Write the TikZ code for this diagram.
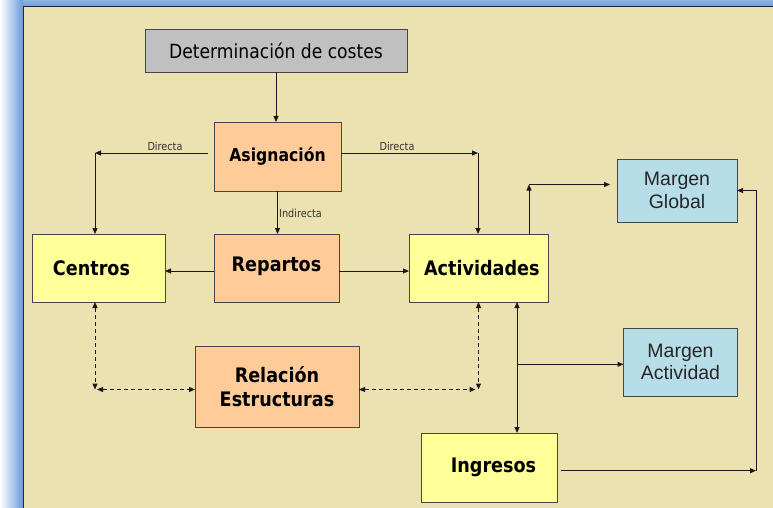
\documentclass[tikz,border=0pt]{standalone}
\usepackage{fontspec}
\setmainfont[FakeStretch=0.88]{DejaVu Sans}
\newfontfamily\arialf{Liberation Sans}
\usetikzlibrary{arrows.meta}
\definecolor{beige}{RGB}{236,225,176}
\definecolor{frameblue}{RGB}{104,154,216}
\definecolor{grayfill}{RGB}{192,192,192}
\definecolor{peach}{RGB}{255,204,153}
\definecolor{lyellow}{RGB}{255,255,153}
\definecolor{lblue}{RGB}{183,222,232}
\definecolor{boxline}{RGB}{70,70,70}
\definecolor{conn}{RGB}{25,25,25}
\tikzset{
  box/.style={draw=boxline, line width=0.9pt, inner sep=0pt, outer sep=0pt, align=center},
  btxt/.style={font=\fontsize{20}{24}\selectfont\bfseries},
  atxt/.style={font=\arialf\fontsize{19.5}{22.7}\selectfont, text=black!85},
  small/.style={font=\fontsize{11}{13}\selectfont, text=black!80, inner sep=0pt},
  arr/.style={draw=conn, line width=1pt, -{Triangle[length=6pt,width=5pt]}},
  darr/.style={draw=conn, line width=1pt, {Triangle[length=6pt,width=5pt]}-{Triangle[length=6pt,width=5pt]}},
  dsh/.style={dash pattern=on 4pt off 3pt}
}
\begin{document}
\begin{tikzpicture}[x=1pt,y=-1pt]
\useasboundingbox (0,0) rectangle (773,508);
% frame
\fill[white] (0,0) rectangle (773,508);
\shade[left color=white, right color=frameblue] (0,0) rectangle (23,508);
\shade[top color=frameblue!75, bottom color=frameblue] (23,0) rectangle (773,7);
\fill[beige] (23,7) rectangle (773,508);
\draw[line width=1pt, black!85] (23,508) -- (23,7) -- (773,7);

% nodes
\node[box, fill=grayfill, minimum width=262pt, minimum height=43pt,
      font=\fontsize{19.5}{23}\selectfont] (det) at (276,50.5) {Determinación de costes};
\node[box, fill=peach, minimum width=127pt, minimum height=69pt, btxt,
      font=\fontsize{17.8}{21}\selectfont\bfseries] (asig) at (277.5,156.5) {Asignación};
\node[box, fill=peach, minimum width=125pt, minimum height=68pt, btxt] (rep) at (276.5,268) {\raisebox{8pt}{Repartos}};
\node[box, fill=lyellow, minimum width=133pt, minimum height=68pt, btxt] (cen) at (98.5,268) {\kern-14pt Centros};
\node[box, fill=lyellow, minimum width=139pt, minimum height=68pt, btxt] (act) at (478.5,268) {Actividades\kern-6.6pt};
\node[box, fill=lblue, minimum width=120pt, minimum height=63pt, atxt] (mg) at (677,190.5) {Margen\\Global};
\node[box, fill=lblue, minimum width=114pt, minimum height=68pt, atxt] (ma) at (680.5,362) {Margen\\Actividad};
\node[box, fill=peach, minimum width=164pt, minimum height=81pt, btxt] (rel) at (277,386.5) {Relación\\Estructuras};
\node[box, fill=lyellow, minimum width=136pt, minimum height=69pt, btxt] (ing) at (489.5,467.5) {Ingresos\kern-8pt};

% coordinates
\coordinate (dl) at (95,153);
\coordinate (dr) at (478,153);
\coordinate (ca) at (529,184.5);
\coordinate (ci) at (756,470.7);
\coordinate (cv) at (517,364.3);
\coordinate (dL) at (95,389.5);
\coordinate (dR) at (478.5,389.5);

% connectors
\draw[arr] (det.south) -- (det.south |- asig.north);
\draw[arr] ([xshift=-6pt,yshift=3.5pt]asig.west) -- (dl);
\draw[arr] (dl) -- (dl |- cen.north);
\node[small] (lab1) at (165,146) {Directa};
\draw[arr] ([yshift=3.5pt]asig.east) -- (dr);
\draw[arr] (dr) -- (dr |- act.north);
\node[small] (lab2) at (397,146) {Directa};
\draw[arr] (asig.south) -- (asig.south |- rep.north);
\node[small] (lab3) at (300.5,213.5) {Indirecta};
\draw[arr] ([yshift=-3pt]rep.west) -- ([yshift=-3pt]cen.east);
\draw[arr] ([yshift=-3pt]rep.east) -- ([yshift=-3pt]act.west);
\draw[arr] (act.north -| ca) -- (ca);
\draw[arr, shorten >=7pt] (ca) -- (ca -| mg.west);
\draw[arr] ([xshift=3pt,yshift=-3.2pt]ing.east) -- (ci);
\draw[arr] (ci) |- (mg.east);
\draw[darr] (act.south -| cv) -- (ing.north -| cv);
\draw[arr] (cv) -- (cv -| ma.west);
% dashed
\draw[darr, dsh] (cen.south -| dL) -- (dL);
\draw[darr, dsh] ([xshift=2pt]dL) -- (rel.west |- dL);
\draw[darr, dsh] (act.south -| dR) -- (dR);
\draw[darr, dsh] (rel.east |- dR) -- ([xshift=-3pt]dR);
\end{tikzpicture}
\end{document}
